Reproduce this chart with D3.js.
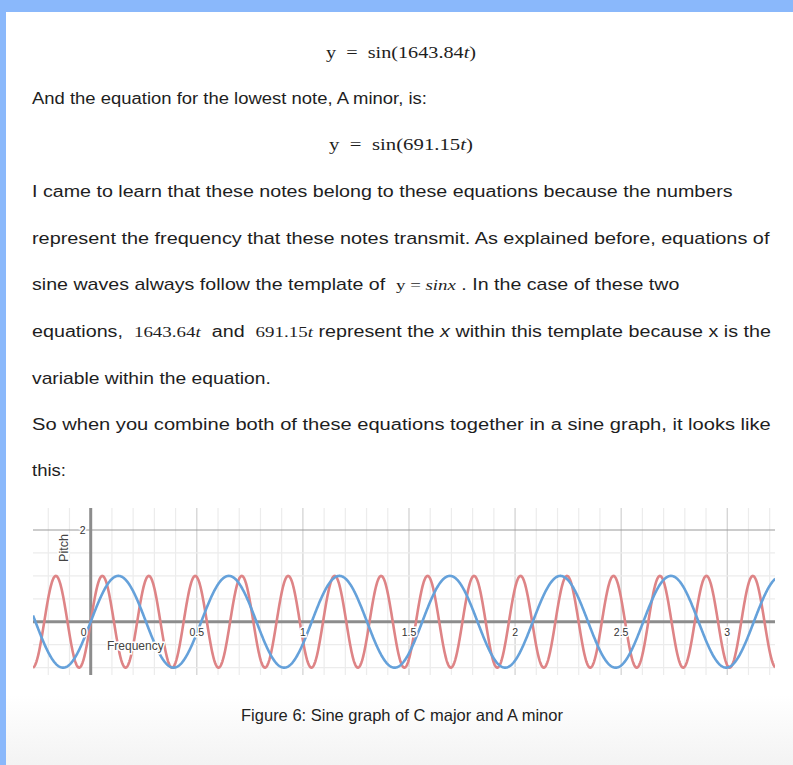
<!DOCTYPE html>
<html>
<head>
<meta charset="utf-8">
<script src="https://cdn.jsdelivr.net/npm/d3@7"></script>
<style>
  html, body { margin: 0; padding: 0; background: #fff; }
  svg { display: block; }
  text { white-space: pre; }
</style>
</head>
<body>
<svg id="page" width="793" height="765"></svg>
<script>
// ---------------- data ----------------
const noteNames = ["C major", "A minor"];
const noteCoefficients = [1643.84, 691.15];   // sin(k·t), graphed in degree mode
const noteAmplitudes = [1, 1];
const xTickValues = [0, 0.5, 1, 1.5, 2, 2.5, 3];
const xTickLabels = ["0", "0.5", "1", "1.5", "2", "2.5", "3"];
const yTickValues = [2];
const yTickLabels = ["2"];
const xAxisTitle = "Frequency";
const yAxisTitle = "Pitch";
const caption = "Figure 6: Sine graph of C major and A minor";

// ---------------- styles ----------------
const noteColors = ["#de8486", "#65a1da"];
const sans = "'Liberation Sans', Arial, sans-serif";
const serif = "'Liberation Serif', 'Times New Roman', serif";

const svg = d3.select("#page");

// page background + bottom shade
const defs = svg.append("defs");
const grad = defs.append("linearGradient").attr("id", "shade").attr("x1", 0).attr("y1", 0).attr("x2", 0).attr("y2", 1);
grad.append("stop").attr("offset", "0%").attr("stop-color", "#ffffff");
grad.append("stop").attr("offset", "100%").attr("stop-color", "#f3f3f3");
svg.append("rect").attr("x", 0).attr("y", 0).attr("width", 793).attr("height", 765).attr("fill", "#fff");
svg.append("rect").attr("x", 0).attr("y", 695).attr("width", 793).attr("height", 70).attr("fill", "url(#shade)");
svg.append("rect").attr("x", 0).attr("y", 0).attr("width", 793).attr("height", 12).attr("fill", "#8ab8fb");
svg.append("rect").attr("x", 0).attr("y", 0).attr("width", 6).attr("height", 765).attr("fill", "#8ab8fb");

// ---------------- document text ----------------
// parts: [text, font, italic]; width = rendered width of the line in the reference
const lines = [
  { y: 58, center: true, width: 150, parts: [["y  =  sin(1643.84", "serif", false], ["t", "serif", true], [")", "serif", false]] },
  { y: 104, width: 395, parts: [["And the equation for the lowest note, A minor, is:", "sans", false]] },
  { y: 150, center: true, width: 144, parts: [["y  =  sin(691.15", "serif", false], ["t", "serif", true], [")", "serif", false]] },
  { y: 197, width: 701, parts: [["I came to learn that these notes belong to these equations because the numbers", "sans", false]] },
  { y: 244, width: 738, parts: [["represent the frequency that these notes transmit. As explained before, equations of", "sans", false]] },
  { y: 290, width: 648, parts: [["sine waves always follow the template of  ", "sans", false], ["y = ", "serif", false], ["sinx", "serif", true], [" . In the case of these two", "sans", false]] },
  { y: 337, width: 739, parts: [["equations,  ", "sans", false], ["1643.64", "serif", false], ["t", "serif", true], ["  and  ", "sans", false], ["691.15", "serif", false], ["t", "serif", true], [" represent the ", "sans", false], ["x", "sans", true], [" within this template because x is the", "sans", false]] },
  { y: 384, width: 239, parts: [["variable within the equation.", "sans", false]] },
  { y: 430, width: 739, parts: [["So when you combine both of these equations together in a sine graph, it looks like", "sans", false]] },
  { y: 476, width: 34, parts: [["this:", "sans", false]] }
];

const bodySize = 15.8;
const inlineSerifSize = 15.2;
const eqSize = 16.5;

lines.forEach(l => {
  const cx = l.center ? 401 : 32;
  const t = svg.append("text")
    .attr("x", 0)
    .attr("y", 0)
    .attr("text-anchor", l.center ? "middle" : "start")
    .attr("fill", "#1e1e1e");
  l.parts.forEach(p => {
    t.append("tspan")
      .attr("font-family", p[1] === "serif" ? serif : sans)
      .attr("font-size", l.center ? eqSize : (p[1] === "serif" ? inlineSerifSize : bodySize))
      .attr("font-style", p[2] ? "italic" : "normal")
      .text(p[0]);
  });
  const natural = t.node().getComputedTextLength();
  const sx = l.width / natural;
  t.attr("transform", `translate(${cx},${l.y}) scale(${sx},1)`);
});

// ---------------- graph ----------------
const plot = { left: 33, right: 775, top: 508, bottom: 675 };
const x = d3.scaleLinear().domain([-0.272, 3.225]).range([plot.left, plot.right]);
const y = d3.scaleLinear().domain([-1.16, 2.48]).range([plot.bottom, plot.top]);

const g = svg.append("g");
g.append("clipPath").attr("id", "plotclip").append("rect")
  .attr("x", plot.left).attr("y", plot.top)
  .attr("width", plot.right - plot.left).attr("height", plot.bottom - plot.top);

// grid
const xMinor = d3.range(-2, 33).map(i => i / 10);
const yMinor = d3.range(-2, 5).map(i => i / 2);
g.selectAll(".xminor").data(xMinor).join("line")
  .attr("x1", d => x(d)).attr("x2", d => x(d))
  .attr("y1", plot.top).attr("y2", plot.bottom)
  .attr("stroke", d => Math.abs(d * 2 - Math.round(d * 2)) < 1e-6 ? "#d0d0d0" : "#ececec")
  .attr("stroke-width", 1.2);
g.selectAll(".yminor").data(yMinor).join("line")
  .attr("x1", plot.left).attr("x2", plot.right)
  .attr("y1", d => y(d)).attr("y2", d => y(d))
  .attr("stroke", d => d === 2 ? "#9a9a9a" : "#ececec")
  .attr("stroke-width", 1.2);

// axes lines
g.append("line").attr("x1", plot.left).attr("x2", plot.right)
  .attr("y1", y(0)).attr("y2", y(0)).attr("stroke", "#8c8c8c").attr("stroke-width", 3);
g.append("line").attr("x1", x(0)).attr("x2", x(0))
  .attr("y1", plot.top).attr("y2", plot.bottom).attr("stroke", "#8c8c8c").attr("stroke-width", 3);

// waves
const samples = d3.range(x.domain()[0], x.domain()[1] + 0.002, 0.002);
const line = d3.line().x(d => x(d[0])).y(d => y(d[1])).curve(d3.curveLinear);
noteNames.forEach((name, i) => {
  const pts = samples.map(t => [t, noteAmplitudes[i] * Math.sin(noteCoefficients[i] * t * Math.PI / 180)]);
  g.append("path").datum(pts)
    .attr("clip-path", "url(#plotclip)")
    .attr("d", line)
    .attr("fill", "none")
    .attr("stroke", noteColors[i])
    .attr("stroke-width", 2.6)
    .attr("stroke-linejoin", "round");
});

// tick labels
const labelStyle = sel => sel.attr("font-family", sans).attr("font-size", 10.5)
  .attr("fill", "#333").attr("stroke", "#fff").attr("stroke-width", 3)
  .attr("paint-order", "stroke");
xTickValues.forEach((v, i) => {
  g.append("text")
    .attr("x", v === 0 ? x(v) - 4 : x(v))
    .attr("y", y(0) + 14)
    .attr("text-anchor", v === 0 ? "end" : "middle")
    .call(labelStyle)
    .text(xTickLabels[i]);
});
yTickValues.forEach((v, i) => {
  g.append("text")
    .attr("x", x(0) - 5).attr("y", y(v) + 4)
    .attr("text-anchor", "end")
    .call(labelStyle)
    .text(yTickLabels[i]);
});

// axis titles
g.append("text").attr("x", 107).attr("y", 650)
  .attr("font-family", sans).attr("font-size", 12).attr("fill", "#444")
  .attr("stroke", "#fff").attr("stroke-width", 3).attr("paint-order", "stroke")
  .text(xAxisTitle);
g.append("text").attr("transform", "translate(68,548) rotate(-90)")
  .attr("text-anchor", "middle")
  .attr("font-family", sans).attr("font-size", 12.5).attr("fill", "#444")
  .attr("stroke", "#fff").attr("stroke-width", 3).attr("paint-order", "stroke")
  .text(yAxisTitle);

// caption
const cap = svg.append("text").attr("x", 402).attr("y", 721)
  .attr("text-anchor", "middle").attr("font-family", sans).attr("font-size", 13)
  .attr("fill", "#222").text(caption);
const capW = cap.node().getComputedTextLength();
cap.attr("font-size", 13 * 322 / capW);
</script>
</body>
</html>
